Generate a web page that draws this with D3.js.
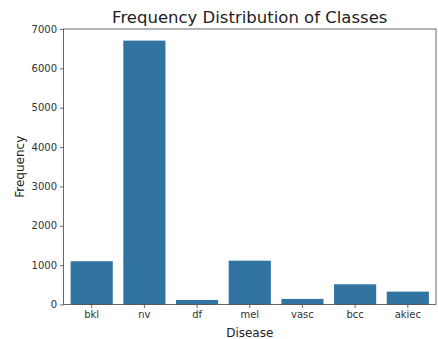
<!DOCTYPE html>
<html><head><meta charset="utf-8">
<script src="https://cdn.jsdelivr.net/npm/d3@7"></script>
<style>body{margin:0;background:#fff}svg{display:block}text{font-family:"DejaVu Sans",sans-serif}</style>
</head><body><svg id="c" width="438" height="339"></svg>
<script>
const categories = ["bkl","nv","df","mel","vasc","bcc","akiec"];
const frequencies = [1099,6705,115,1113,142,514,327];
const yTicks = [0,1000,2000,3000,4000,5000,6000,7000];

const svg = d3.select("#c");
const m = {l:63.5, r:2, t:29, b:34.5};
const W = 438, H = 339;
const x = d3.scaleBand().domain(categories).range([m.l, W-m.r]).paddingInner(0.2).paddingOuter(0.135);
const y = d3.scaleLinear().domain([0,7000]).range([H-m.b, m.t]);

svg.selectAll("rect.bar").data(categories).join("rect")
  .attr("class","bar")
  .attr("x", d=>x(d)).attr("width", x.bandwidth())
  .attr("y", (d,i)=>y(frequencies[i])).attr("height", (d,i)=>y(0)-y(frequencies[i]))
  .attr("fill","#3274a1");

const xa = svg.append("g").attr("transform",`translate(0,${H-m.b})`)
  .call(d3.axisBottom(x).tickSize(3.5).tickPadding(3));
const ya = svg.append("g").attr("transform",`translate(${m.l},0)`)
  .call(d3.axisLeft(y).tickValues(yTicks).tickFormat(d3.format("d")).tickSize(3.5).tickPadding(3));
[xa,ya].forEach(a=>{
  a.select(".domain").remove();
  a.selectAll("text").attr("font-size","10px").attr("fill","#333").attr("font-family","DejaVu Sans");
  a.selectAll("line").attr("stroke","#444").attr("stroke-width",0.8);
});

svg.append("rect").attr("x",m.l).attr("y",m.t).attr("width",W-m.r-m.l).attr("height",H-m.b-m.t)
  .attr("fill","none").attr("stroke","#444").attr("stroke-width",0.8);

svg.append("text").attr("x",(m.l+W-m.r)/2).attr("y",23).attr("text-anchor","middle")
  .attr("font-size","16.5px").attr("fill","#222").text("Frequency Distribution of Classes");
svg.append("text").attr("x",(m.l+W-m.r)/2).attr("y",336.5).attr("text-anchor","middle")
  .attr("font-size","12px").attr("fill","#222").text("Disease");
svg.append("text").attr("transform",`translate(24,${(m.t+H-m.b)/2}) rotate(-90)`).attr("text-anchor","middle")
  .attr("font-size","12px").attr("fill","#222").text("Frequency");
</script></body></html>
